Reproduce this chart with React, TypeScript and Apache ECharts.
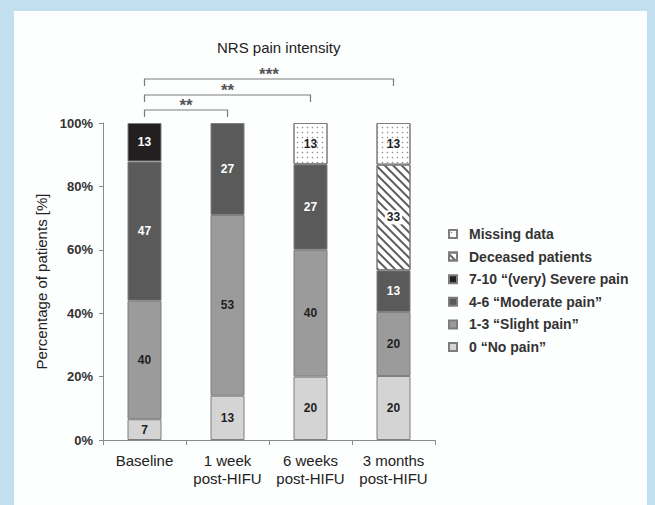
import React, { useEffect, useRef } from "react";
import * as echarts from "echarts";

// Time points of the NRS assessment
const categories = ["Baseline", "1 week\npost-HIFU", "6 weeks\npost-HIFU", "3 months\npost-HIFU"];

// Percentage of patients per pain class (as printed on each segment)
const noPain = [7, 13, 20, 20];
const slightPain = [40, 53, 40, 20];
const moderatePain = [47, 27, 27, 13];
const severePain = [13, 0, 0, 0];
const deceased = [0, 0, 0, 33];
const missing = [0, 0, 13, 13];

// Y-axis ticks (percent)
const yTicks = [0, 20, 40, 60, 80, 100];

// Significance brackets: baseline vs. later time point
const comparisons = [
  { from: 0, to: 3, stars: "***" },
  { from: 0, to: 2, stars: "**" },
  { from: 0, to: 1, stars: "**" },
];

const FONT = "'Liberation Sans', Arial, sans-serif";

const hatch = {
  symbol: "rect",
  symbolSize: 1,
  color: "#5e5e5e",
  dashArrayX: [1, 0],
  dashArrayY: [1.3, 3.1],
  rotation: Math.PI / 4,
};

const dots = {
  symbol: "circle",
  symbolSize: 0.3,
  color: "#909090",
  dashArrayX: [4.5, 0],
  dashArrayY: [4.5, 0],
  rotation: 0,
};

type Layer = {
  name: string;
  values: number[];
  color: string;
  text: string;
  decal?: any;
  labelBg?: string;
};

const layers: Layer[] = [
  { name: "0 \u201cNo pain\u201d", values: noPain, color: "#d4d4d4", text: "#1e1e1e" },
  { name: "1-3 \u201cSlight pain\u201d", values: slightPain, color: "#9b9b9b", text: "#1e1e1e" },
  { name: "4-6 \u201cModerate pain\u201d", values: moderatePain, color: "#5a5a5a", text: "#ffffff" },
  { name: "7-10 \u201c(very) Severe pain", values: severePain, color: "#231f20", text: "#ffffff" },
  { name: "Deceased patients", values: deceased, color: "#ffffff", text: "#1e1e1e", decal: hatch, labelBg: "#ffffff" },
  { name: "Missing data", values: missing, color: "#ffffff", text: "#1e1e1e", decal: dots },
];

const legendOrder = [...layers].reverse().map((l) => l.name);

// 100% stacked: each column is scaled to its own total
const totals = categories.map((_, i) => layers.reduce((s, l) => s + l.values[i], 0));

export default function App() {
  const ref = useRef<HTMLDivElement>(null);

  useEffect(() => {
    if (!ref.current) return;
    const chart = echarts.init(ref.current, undefined, { renderer: "svg" });

    const series = layers.map((l) => ({
      name: l.name,
      type: "bar",
      stack: "nrs",
      barWidth: 34,
      itemStyle: {
        color: l.color,
        borderColor: "#7d7d7d",
        borderWidth: 1,
        ...(l.decal ? { decal: l.decal } : {}),
      },
      label: {
        show: true,
        position: "inside",
        color: l.text,
        fontFamily: FONT,
        fontWeight: "bold",
        fontSize: 12,
        ...(l.labelBg ? { backgroundColor: l.labelBg, padding: [1, 2] } : {}),
        formatter: (p: any) => String(p.data.raw),
      },
      emphasis: { disabled: true },
      data: l.values.map((v, i) =>
        v === 0 ? { value: "-", raw: v } : { value: (v / totals[i]) * 100, raw: v }
      ),
    }));

    chart.setOption({
      animation: false,
      title: {
        text: "NRS pain intensity",
        left: 212,
        top: 35,
        textStyle: { fontFamily: FONT, fontSize: 15, fontWeight: "normal", color: "#222" },
      },
      grid: { left: 103, right: 220, top: 123, bottom: 65 },
      legend: {
        orient: "vertical",
        left: 443,
        top: 221,
        icon: "rect",
        itemWidth: 8,
        itemHeight: 8,
        itemGap: 6.6,
        selectedMode: false,
        data: legendOrder,
        textStyle: {
          fontFamily: FONT,
          fontSize: 14,
          fontWeight: "bold",
          color: "#333",
          lineHeight: 16,
          padding: [0, 0, 0, 7],
        },
      },
      xAxis: {
        type: "category",
        data: categories,
        axisLine: { lineStyle: { color: "#8a8a8a", width: 1 } },
        axisTick: { show: true, length: 5, lineStyle: { color: "#8a8a8a" } },
        axisLabel: {
          interval: 0,
          fontFamily: FONT,
          fontSize: 15,
          color: "#222",
          lineHeight: 18,
          margin: 11,
        },
      },
      yAxis: {
        type: "value",
        min: yTicks[0],
        max: yTicks[yTicks.length - 1],
        interval: yTicks[1] - yTicks[0],
        name: "Percentage of patients [%]",
        nameLocation: "middle",
        nameGap: 43,
        nameTextStyle: { fontFamily: FONT, fontSize: 15, color: "#222" },
        splitLine: { show: false },
        axisLine: { show: true, lineStyle: { color: "#8a8a8a", width: 1 } },
        axisTick: { show: true, length: 4, lineStyle: { color: "#8a8a8a" } },
        axisLabel: {
          formatter: "{value}%",
          fontFamily: FONT,
          fontSize: 13,
          fontWeight: "bold",
          color: "#333",
          margin: 10,
        },
      },
      series,
    });

    // Significance brackets above the columns, anchored on the category centres
    const lineY = [79, 95, 110];
    const dropLen = 7;
    const graphics: any[] = [];
    comparisons.forEach((c, k) => {
      const x1 = chart.convertToPixel({ xAxisIndex: 0 }, c.from) as number;
      const x2 = chart.convertToPixel({ xAxisIndex: 0 }, c.to) as number;
      const y = lineY[k];
      graphics.push({
        type: "polyline",
        silent: true,
        shape: { points: [[x1, y + dropLen], [x1, y], [x2, y], [x2, y + dropLen]] },
        style: { stroke: "#7a7a7a", lineWidth: 1.2, fill: "none" },
      });
      graphics.push({
        type: "text",
        silent: true,
        x: (x1 + x2) / 2,
        y: y - 5,
        style: {
          text: c.stars,
          align: "center",
          verticalAlign: "middle",
          fontFamily: FONT,
          fontSize: 17,
          fontWeight: "bold",
          fill: "#555",
        },
      });
    });
    chart.setOption({ graphic: graphics });

    return () => chart.dispose();
  }, []);

  return (
    <div style={{ position: "absolute", left: 0, top: 0, width: 655, height: 505, background: "#c2dff0" }}>
      <div style={{ position: "absolute", left: 14, top: 11, width: 633, height: 494, background: "#fdfefe" }} />
      <div ref={ref} style={{ position: "absolute", left: 0, top: 0, width: 655, height: 505 }} />
    </div>
  );
}
